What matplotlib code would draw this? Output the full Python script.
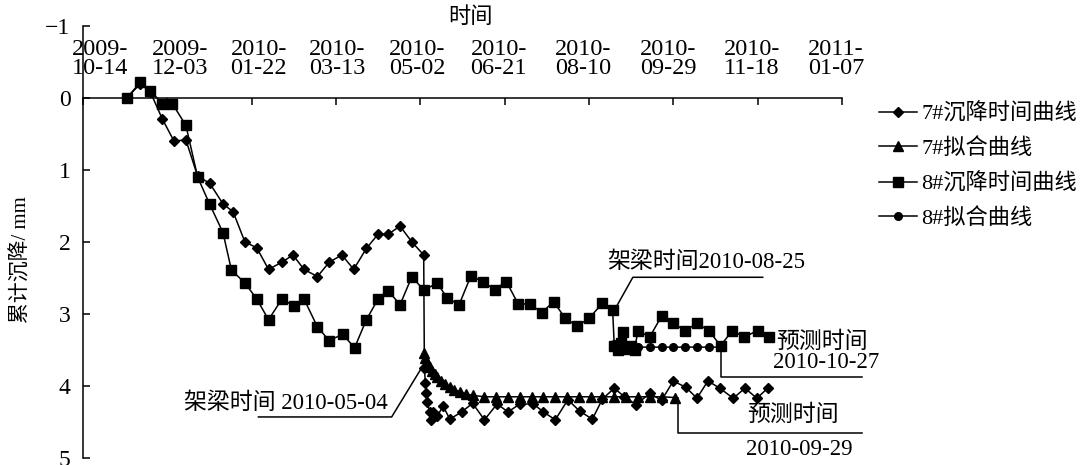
import matplotlib
matplotlib.use("Agg")

import matplotlib.pyplot as plt
from matplotlib.lines import Line2D
from matplotlib.transforms import ScaledTranslation
import pandas as pd

plt.rcParams.update({
    "font.family": ["Liberation Serif", "Noto Sans CJK SC"],
    "font.size": 16,
    "axes.unicode_minus": True,
    "axes.linewidth": 1.1,
})

START = pd.Timestamp("2009-10-14")

tick_dates = ["2009-10-14", "2009-12-03", "2010-01-22", "2010-03-13", "2010-05-02",
              "2010-06-21", "2010-08-10", "2010-09-29", "2010-11-18", "2011-01-07"]
y_ticks = [-1, 0, 1, 2, 3, 4, 5]

# 7# 实测沉降 (距 2009-10-14 的天数, mm)
d7 = [26, 34, 40, 47, 54, 61, 68, 75, 83, 89, 96, 103, 110, 118, 124.5, 131, 139,
      146, 153.5, 160.5, 168, 175, 181, 188, 195, 202,
      202.4, 203, 203.5, 204, 205.5, 206.5, 207.5, 210, 213.5, 217.5, 224.5, 231,
      238, 245.5, 252, 259, 267, 273, 280, 287.5, 294.5, 302, 308, 315, 321, 328,
      336, 343, 350, 357.5, 364, 370.5, 377.5, 385.5, 392.5, 399.5, 406]
s7 = [0.0, -0.2, -0.08, 0.29, 0.6, 0.58, 1.09, 1.18, 1.47, 1.58, 2.0, 2.08, 2.38,
      2.28, 2.18, 2.38, 2.48, 2.28, 2.18, 2.38, 2.09, 1.89, 1.89, 1.78, 2.0, 2.18,
      3.75, 3.96, 4.1, 4.22, 4.36, 4.47, 4.36, 4.42, 4.28, 4.46, 4.36, 4.24,
      4.47, 4.25, 4.36, 4.25, 4.25, 4.36, 4.47, 4.19, 4.35, 4.46, 4.18, 4.03, 4.15,
      4.26, 4.1, 4.2, 3.93, 4.02, 4.17, 3.93, 4.03, 4.17, 4.03, 4.17, 4.03]

# 7# 拟合曲线
d7_fit = [202, 203, 204, 205.5, 207, 208.5, 210, 212, 214.5, 217.5, 220, 223.5, 227,
          231, 238, 245, 252, 259, 266, 273, 280, 287, 294, 301, 308, 315, 322, 329,
          336, 343, 351]
s7_fit = [3.54, 3.61, 3.67, 3.74, 3.79, 3.83, 3.88, 3.93, 3.97, 4.01, 4.05, 4.08,
          4.11, 4.13, 4.15, 4.15, 4.15, 4.15, 4.15, 4.15, 4.15, 4.15, 4.15, 4.15,
          4.15, 4.15, 4.15, 4.15, 4.15, 4.15, 4.16]

# 8# 实测沉降
d8 = [26, 34, 40, 47, 53, 61, 68, 75, 83, 88, 96, 103, 110, 118, 125, 131, 139, 146,
      154, 161, 168, 175, 181, 188, 195, 202, 210, 216, 223, 230, 237, 244, 251, 258,
      265, 272, 279, 286, 293, 300, 308, 314,
      315, 317, 319, 320, 322, 325, 327, 329, 336, 343, 350, 357, 364, 371, 378,
      385, 392, 400, 407]
s8 = [0.0, -0.22, -0.1, 0.08, 0.08, 0.38, 1.1, 1.47, 1.87, 2.39, 2.57, 2.79, 3.08,
      2.79, 2.89, 2.79, 3.18, 3.37, 3.28, 3.47, 3.08, 2.79, 2.68, 2.87, 2.48, 2.67,
      2.57, 2.78, 2.87, 2.47, 2.55, 2.66, 2.55, 2.86, 2.86, 2.98, 2.83, 3.06, 3.17,
      3.06, 2.85, 2.94,
      3.45, 3.5, 3.4, 3.25, 3.48, 3.45, 3.5, 3.23, 3.32, 3.03, 3.13, 3.23, 3.13,
      3.23, 3.44, 3.23, 3.32, 3.23, 3.32]

# 8# 拟合曲线
d8_fit = [315, 317, 319, 322, 325, 329, 336, 343, 350, 357, 364, 371, 378]
s8_fit = [3.42, 3.44, 3.45, 3.45, 3.45, 3.46, 3.46, 3.46, 3.46, 3.46, 3.46, 3.46, 3.46]

tick_days = [(pd.Timestamp(t) - START).days for t in tick_dates]
tick_labels = [t[:5] + "\n" + t[5:] for t in tick_dates]
# 日期标签相对刻度的水平偏移 (像素)
label_shift = [17, 13, 7, 1, -3, -6, -6, -5, -6, -6]

fig = plt.figure(figsize=(10.84, 4.65), dpi=100)
ax = fig.add_axes([83 / 1084, 7 / 465, 759 / 1084, 432 / 465])

lw = 1.1
ax.plot(d8, s8, color="black", lw=lw, marker="s", ms=7, zorder=3)
ax.plot(d7, s7, color="black", lw=lw, marker="D", ms=5.5, zorder=4)
ax.plot(d7_fit, s7_fit, color="black", lw=lw, marker="^", ms=7, zorder=5)
ax.plot(d8_fit, s8_fit, color="black", lw=lw, marker="o", ms=5.5, zorder=5)

ax.set_xlim(tick_days[0], tick_days[-1])
ax.set_ylim(5, -1)

# 横轴画在 0 mm 处, 刻度标签在上方
ax.spines["top"].set_position(("data", 0))
ax.spines["bottom"].set_visible(False)
ax.spines["right"].set_visible(False)
ax.xaxis.tick_top()
ax.set_xticks(tick_days)
ax.set_xticklabels(tick_labels, linespacing=0.85)
ax.tick_params(axis="x", direction="in", length=5, width=1.1, pad=14, labelsize=17.5)
for lab, dx in zip(ax.get_xticklabels(), label_shift):
    lab.set_transform(lab.get_transform() + ScaledTranslation(dx / 100, 0, fig.dpi_scale_trans))

ax.set_yticks(y_ticks)
ax.tick_params(axis="y", direction="in", length=5, width=1.1, pad=9, labelsize=17)

fig.text(470 / 1084, 1 - 18 / 465, "时间", fontsize=16, ha="center", va="center")
ax.set_ylabel("累计沉降/ mm", fontsize=15)
ax.yaxis.set_label_coords(-0.068, 0.46)

# 架梁、预测时间的标注
lead = dict(color="black", lw=1.1, clip_on=False, zorder=2)
ax.plot([202, 183, 104], [3.7, 4.43, 4.43], **lead)
ax.text(60, 4.24, "架梁时间 2010-05-04", fontsize=16.5, va="center", ha="left")

ax.plot([315, 326, 403], [2.95, 2.49, 2.49], **lead)
ax.text(311, 2.28, "架梁时间2010-08-25", fontsize=16.5, va="center", ha="left")

ax.plot([378, 378, 462], [3.44, 3.88, 3.88], **lead)
ax.text(411, 3.39, "预测时间", fontsize=16.5, va="center", ha="left", clip_on=False)
ax.text(409, 3.68, "2010-10-27", fontsize=16.5, va="center", ha="left", clip_on=False)

ax.plot([353, 353, 462], [4.16, 4.65, 4.65], **lead)
ax.text(394, 4.4, "预测时间", fontsize=16.5, va="center", ha="left", clip_on=False)
ax.text(393, 4.88, "2010-09-29", fontsize=16.5, va="center", ha="left", clip_on=False)

handles = [
    Line2D([], [], color="black", lw=lw, marker="D", ms=5.5),
    Line2D([], [], color="black", lw=lw, marker="^", ms=7),
    Line2D([], [], color="black", lw=lw, marker="s", ms=7),
    Line2D([], [], color="black", lw=lw, marker="o", ms=5.5),
]
labels = ["7#沉降时间曲线", "7#拟合曲线", "8#沉降时间曲线", "8#拟合曲线"]
fig.legend(handles, labels, loc="upper left", bbox_to_anchor=(868 / 1084, 1 - 92 / 465),
           frameon=False, borderpad=0, handlelength=1.7, handletextpad=0.2,
           labelspacing=0.62, fontsize=16)

fig.savefig("out.png", dpi=100)
